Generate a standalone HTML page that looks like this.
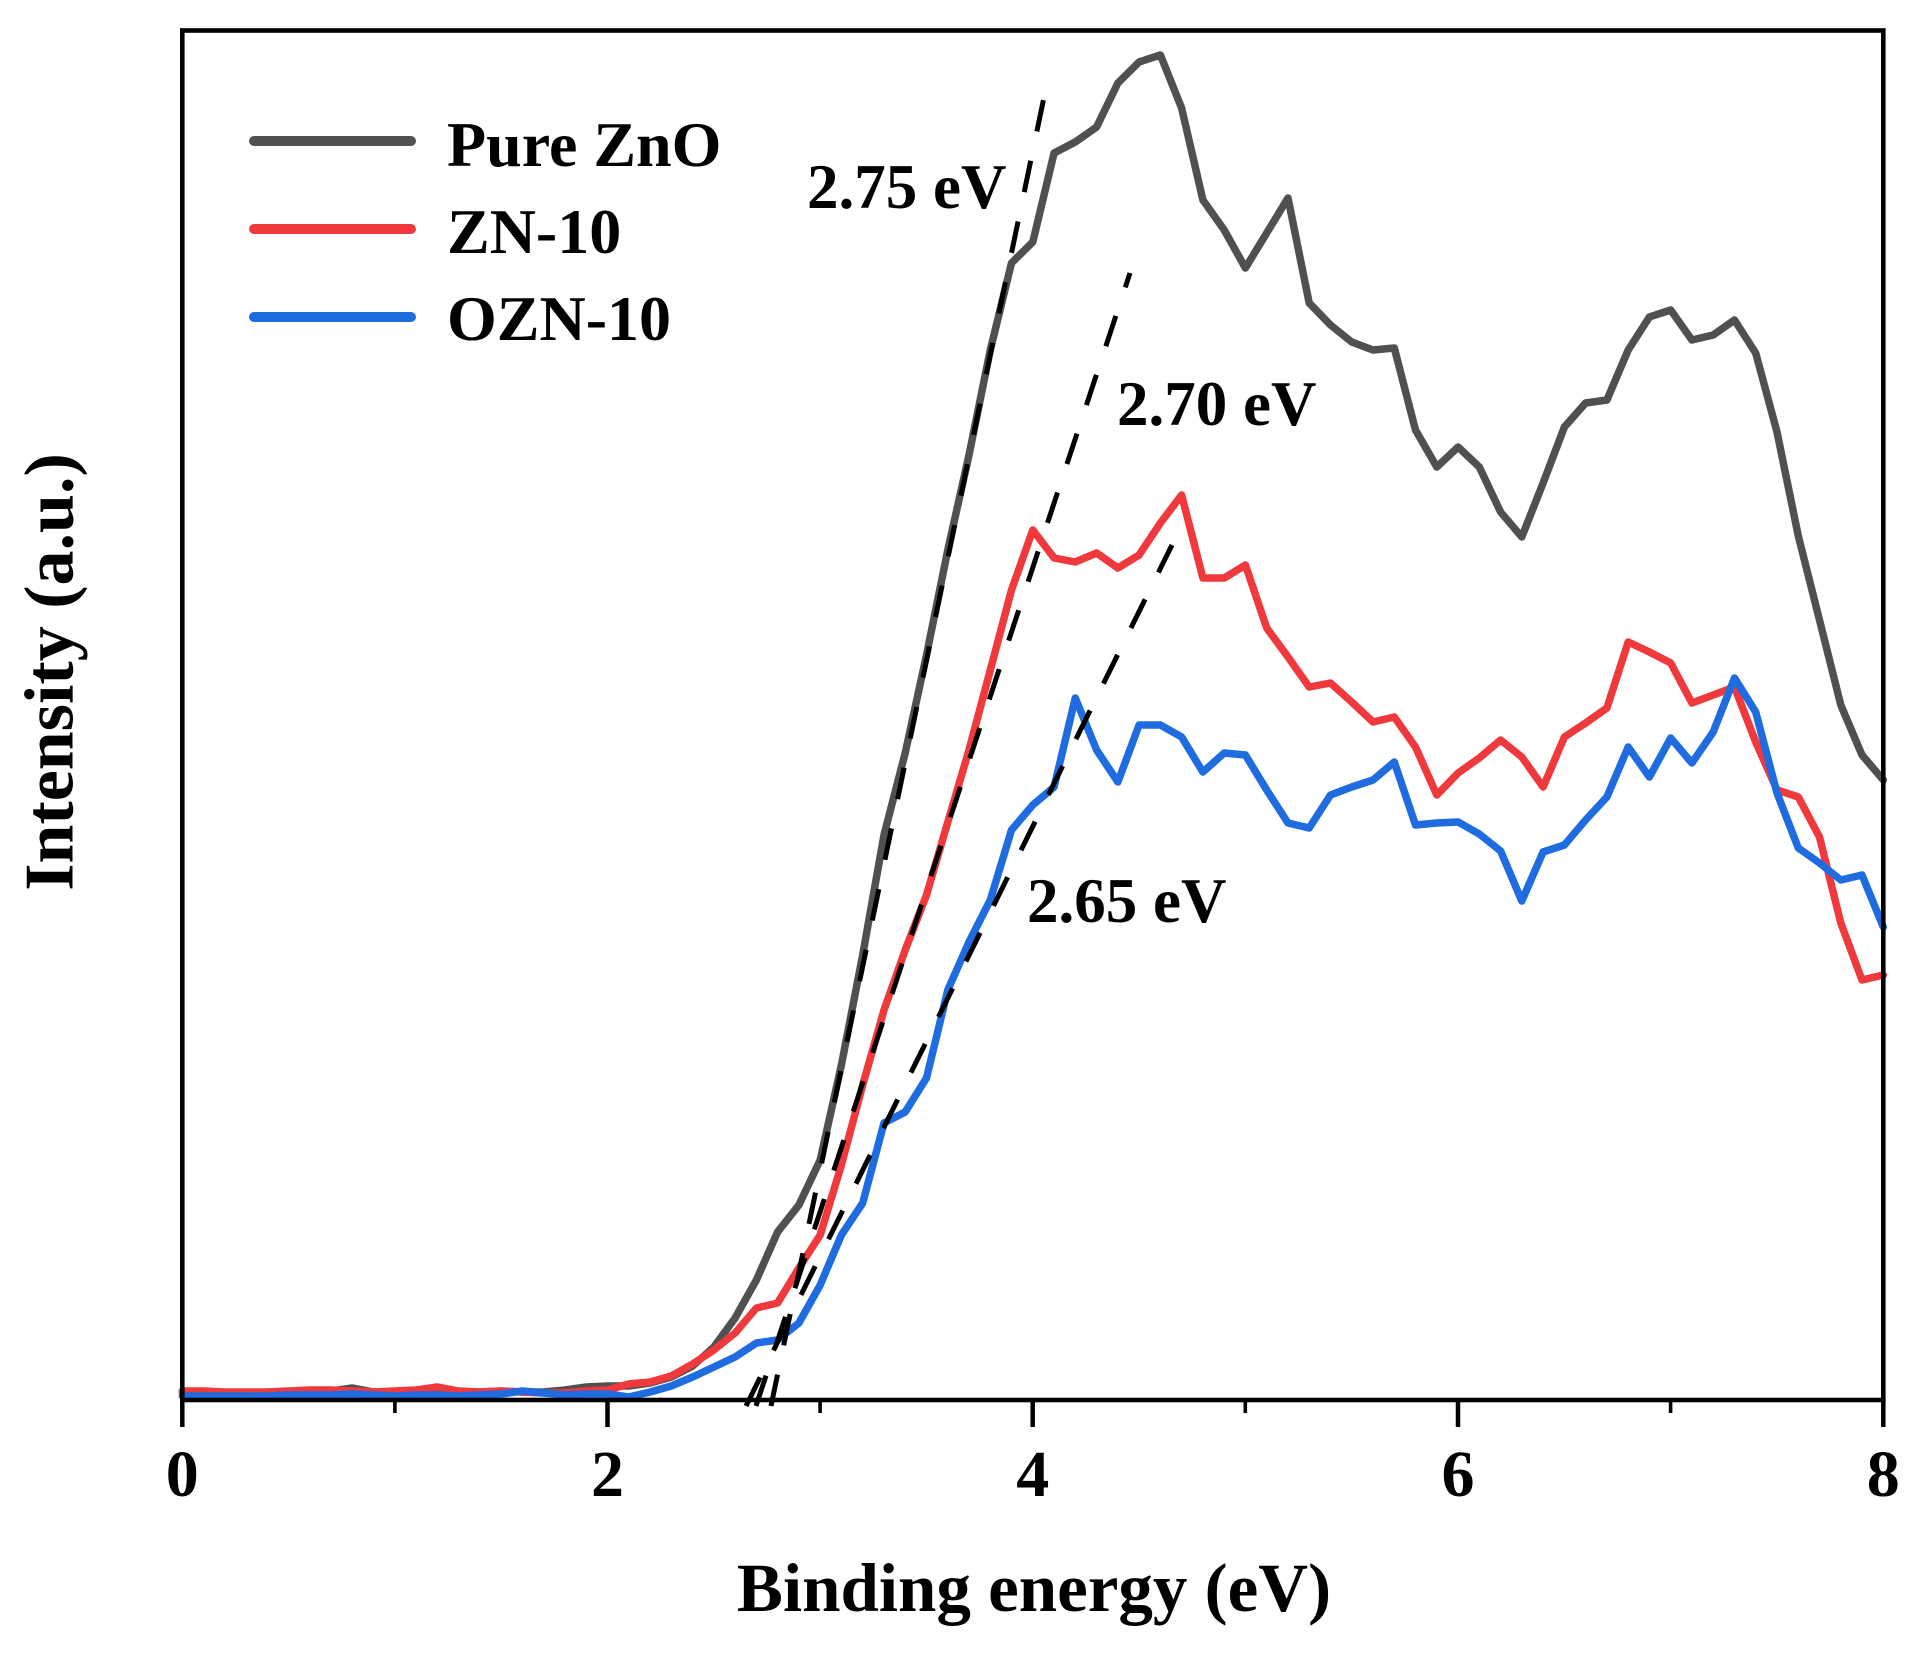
<!DOCTYPE html>
<html>
<head>
<meta charset="utf-8">
<style>
  html, body { margin: 0; padding: 0; background: #ffffff; }
  svg { display: block; }
  text { font-family: "Liberation Serif", "Times New Roman", serif; font-weight: bold; fill: #000; }
</style>
</head>
<body>
<svg width="1924" height="1659" viewBox="0 0 1924 1659" xmlns="http://www.w3.org/2000/svg">
  <rect x="0" y="0" width="1924" height="1659" fill="#ffffff"/>

  <!-- data curves -->
  <g fill="none" stroke-width="7.5" stroke-linejoin="round" stroke-linecap="round">
    <polyline stroke="#505050" points="182.3,1392 203.6,1392 224.8,1393 246.1,1394 267.4,1394 288.6,1393 309.9,1392 331.1,1391 352.4,1388 373.7,1392 394.9,1393 416.2,1392 437.5,1391 458.7,1393 480.0,1392 501.2,1391 522.5,1392 543.8,1392 565.0,1390 586.3,1387 607.6,1386 628.8,1386 650.1,1383 671.3,1377 692.6,1366 713.9,1347 735.1,1318 756.4,1280 777.6,1232 798.9,1205 820.2,1160 841.4,1065 862.7,955 884.0,835 905.2,753 926.5,655 947.8,550 969.0,455 990.3,350 1011.5,263 1032.8,242 1054.1,153 1075.3,142 1096.6,127 1117.9,83 1139.1,62 1160.4,55 1181.6,108 1202.9,200 1224.2,230 1245.4,268 1266.7,233 1288.0,198 1309.2,303 1330.5,325 1351.7,342 1373.0,350 1394.3,348 1415.5,430 1436.8,467 1458.1,447 1479.3,467 1500.6,512 1521.8,537 1543.1,483 1564.4,427 1585.6,403 1606.9,400 1628.2,350 1649.4,317 1670.7,310 1691.9,340 1713.2,335 1734.5,320 1755.7,353 1777.0,432 1798.3,536 1819.5,620 1840.8,705 1862.0,755 1883.3,780"/>
    <polyline stroke="#f0393c" points="182.3,1391 203.6,1391 224.8,1392 246.1,1392 267.4,1392 288.6,1391 309.9,1390 331.1,1390 352.4,1391 373.7,1392 394.9,1391 416.2,1390 437.5,1387 458.7,1391 480.0,1392 501.2,1391 522.5,1392 543.8,1393 565.0,1393 586.3,1391 607.6,1390 628.8,1384 650.1,1382 671.3,1376 692.6,1364 713.9,1350 735.1,1333 756.4,1308 777.6,1303 798.9,1268 820.2,1235 841.4,1165 862.7,1085 884.0,1010 905.2,950 926.5,895 947.8,822 969.0,750 990.3,670 1011.5,590 1032.8,530 1054.1,558 1075.3,562 1096.6,553 1117.9,568 1139.1,555 1160.4,523 1181.6,495 1202.9,578 1224.2,578 1245.4,565 1266.7,628 1288.0,657 1309.2,687 1330.5,683 1351.7,702 1373.0,722 1394.3,717 1415.5,747 1436.8,795 1458.1,773 1479.3,758 1500.6,740 1521.8,757 1543.1,787 1564.4,737 1585.6,723 1606.9,708 1628.2,642 1649.4,652 1670.7,663 1691.9,703 1713.2,695 1734.5,687 1755.7,742 1777.0,790 1798.3,797 1819.5,837 1840.8,923 1862.0,980 1883.3,975"/>
    <polyline stroke="#1e6ce0" points="182.3,1396 203.6,1396 224.8,1396 246.1,1396 267.4,1396 288.6,1395 309.9,1395 331.1,1395 352.4,1394 373.7,1395 394.9,1396 416.2,1395 437.5,1395 458.7,1396 480.0,1395 501.2,1394 522.5,1391 543.8,1393 565.0,1395 586.3,1394 607.6,1394 628.8,1397 650.1,1392 671.3,1386 692.6,1377 713.9,1367 735.1,1357 756.4,1343 777.6,1340 798.9,1323 820.2,1285 841.4,1235 862.7,1203 884.0,1123 905.2,1112 926.5,1078 947.8,990 969.0,942 990.3,900 1011.5,830 1032.8,805 1054.1,787 1075.3,698 1096.6,750 1117.9,782 1139.1,725 1160.4,725 1181.6,737 1202.9,772 1224.2,753 1245.4,755 1266.7,790 1288.0,823 1309.2,828 1330.5,795 1351.7,787 1373.0,780 1394.3,762 1415.5,825 1436.8,823 1458.1,822 1479.3,834 1500.6,851 1521.8,901 1543.1,852 1564.4,845 1585.6,820 1606.9,797 1628.2,747 1649.4,777 1670.7,738 1691.9,763 1713.2,732 1734.5,678 1755.7,712 1777.0,793 1798.3,848 1819.5,863 1840.8,880 1862.0,875 1883.3,927"/>
  </g>

  <!-- tangent dashed lines -->
  <g stroke="#000" stroke-width="5" stroke-dasharray="32 30" fill="none">
    <line x1="771" y1="1406" x2="1048" y2="78"/>
    <line x1="756" y1="1406" x2="1130" y2="273"/>
    <line x1="746" y1="1406" x2="1172" y2="545"/>
  </g>

  <!-- frame -->
  <rect x="182.3" y="30.5" width="1701" height="1369.5" fill="none" stroke="#000" stroke-width="4.6"/>

  <!-- ticks -->
  <g stroke="#000" stroke-width="4.5">
    <line x1="182.3" y1="1400" x2="182.3" y2="1427"/>
    <line x1="607.5" y1="1400" x2="607.5" y2="1427"/>
    <line x1="1032.7" y1="1400" x2="1032.7" y2="1427"/>
    <line x1="1458" y1="1400" x2="1458" y2="1427"/>
    <line x1="1883.3" y1="1400" x2="1883.3" y2="1427"/>
  </g>
  <g stroke="#000" stroke-width="3.6">
    <line x1="394.9" y1="1400" x2="394.9" y2="1413"/>
    <line x1="820.1" y1="1400" x2="820.1" y2="1413"/>
    <line x1="1245.3" y1="1400" x2="1245.3" y2="1413"/>
    <line x1="1670.6" y1="1400" x2="1670.6" y2="1413"/>
  </g>

  <!-- tick labels -->
  <g font-size="66" text-anchor="middle">
    <text x="182.3" y="1496">0</text>
    <text x="607.5" y="1496">2</text>
    <text x="1032.7" y="1496">4</text>
    <text x="1458" y="1496">6</text>
    <text x="1883.3" y="1496">8</text>
  </g>

  <!-- axis titles -->
  <text x="1034" y="1611" font-size="69" text-anchor="middle">Binding energy (eV)</text>
  <text transform="translate(72.7,672) rotate(-90)" font-size="70" text-anchor="middle">Intensity (a.u.)</text>

  <!-- legend -->
  <g stroke-width="10" stroke-linecap="round">
    <line x1="254" y1="141" x2="411" y2="141" stroke="#505050"/>
    <line x1="254" y1="229" x2="411" y2="229" stroke="#f0393c"/>
    <line x1="254" y1="317" x2="411" y2="317" stroke="#1e6ce0"/>
  </g>
  <g font-size="64">
    <text x="447" y="166">Pure ZnO</text>
    <text x="447" y="253">ZN-10</text>
    <text x="447" y="340">OZN-10</text>
  </g>

  <!-- annotations -->
  <g font-size="63">
    <text x="807" y="208">2.75 eV</text>
    <text x="1117" y="425">2.70 eV</text>
    <text x="1027" y="922">2.65 eV</text>
  </g>
</svg>
</body>
</html>
